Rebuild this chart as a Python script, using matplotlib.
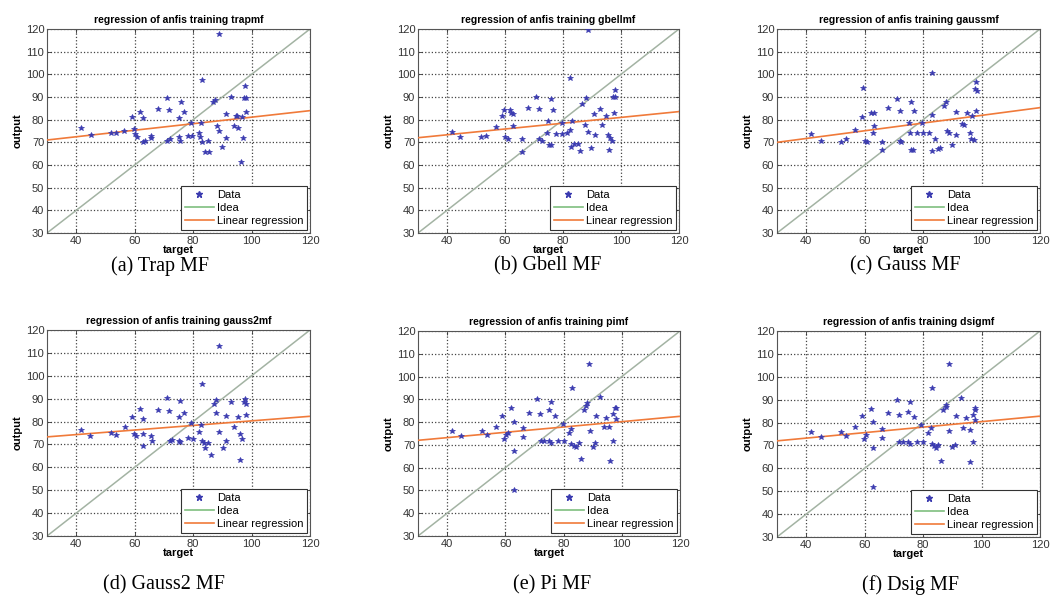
import matplotlib.pyplot as plt
from matplotlib.lines import Line2D

# membership function variants
mf_names = ['trapmf', 'gbellmf', 'gaussmf', 'gauss2mf', 'pimf', 'dsigmf']
captions = ['(a) Trap MF', '(b) Gbell MF', '(c) Gauss MF',
            '(d) Gauss2 MF', '(e) Pi MF', '(f) Dsig MF']

# target / anfis output pairs
trap_target = [88.7, 83.0, 41.5, 45.0, 51.9, 53.6, 56.5, 59.0, 59.7, 61.9, 63.0, 60.0, 60.9,
               62.8, 63.4, 65.7, 65.7, 68.0, 70.9, 71.7, 70.9, 72.0, 75.0, 75.5, 75.3, 75.9,
               77.0, 78.4, 79.6, 79.2, 81.9, 82.7, 82.5, 83.0, 85.1, 84.0, 85.4, 86.8, 87.6,
               88.2, 89.0, 90.0, 91.1, 91.1, 92.9, 94.0, 94.6, 95.1, 95.5, 96.3, 96.9, 97.4,
               98.0, 97.7, 98.0, 97.2]
trap_output = [117.6, 97.6, 76.2, 73.3, 74.0, 74.0, 75.0, 81.2, 75.8, 83.3, 80.9, 73.6, 72.4,
               70.0, 70.7, 72.0, 73.0, 84.8, 89.6, 84.2, 70.7, 71.4, 72.2, 70.7, 80.7, 87.7,
               83.3, 72.9, 72.9, 78.7, 74.3, 78.4, 72.2, 70.0, 70.4, 65.6, 65.6, 87.7, 88.6,
               77.2, 75.1, 67.8, 71.7, 82.6, 90.0, 77.2, 81.6, 81.6, 76.5, 61.3, 81.2, 89.6,
               89.6, 94.7, 83.3, 71.9]

gbell_target = [88.6, 82.4, 41.7, 44.6, 51.7, 53.6, 56.9, 58.9, 59.7, 61.7, 60.1, 60.9, 62.0,
                62.8, 62.8, 65.8, 65.8, 67.8, 70.6, 71.8, 71.8, 72.9, 74.9, 74.6, 75.2, 75.8,
                75.8, 76.6, 77.5, 79.6, 79.8, 81.5, 82.3, 83.0, 82.7, 83.8, 85.0, 85.8, 86.7,
                87.8, 87.6, 88.7, 89.8, 91.0, 90.7, 92.6, 93.3, 94.7, 95.6, 95.8, 96.2, 97.3,
                98.1, 97.8, 97.6, 97.0]
gbell_output = [119.7, 98.6, 74.6, 72.4, 72.4, 72.9, 76.8, 81.6, 84.2, 84.2, 72.4, 71.4, 82.8,
                82.3, 77.2, 71.4, 65.9, 85.2, 89.9, 84.5, 71.4, 70.7, 79.4, 74.0, 68.8, 68.8,
                88.9, 84.2, 73.6, 78.7, 73.6, 74.3, 75.5, 79.4, 67.8, 69.2, 69.2, 66.0, 87.0,
                89.6, 77.7, 74.6, 67.5, 73.3, 82.6, 84.8, 77.5, 81.6, 73.2, 66.6, 71.7, 89.9,
                89.9, 93.2, 82.8, 70.7]

gauss_target = [83.0, 59.4, 41.5, 45.0, 51.9, 53.6, 56.8, 59.0, 60.0, 60.9, 62.1, 63.3, 63.3,
                63.0, 66.0, 66.0, 68.0, 70.9, 72.0, 72.0, 72.6, 75.3, 75.5, 76.0, 76.6, 75.9,
                77.0, 77.8, 79.6, 80.1, 81.9, 83.0, 83.0, 84.2, 85.1, 85.9, 87.1, 87.9, 88.2,
                89.0, 89.9, 91.1, 91.3, 93.2, 94.0, 95.1, 96.0, 96.3, 96.9, 97.7, 98.4, 98.0,
                98.0, 97.4]
gauss_output = [100.5, 94.0, 73.6, 70.7, 70.3, 71.4, 75.5, 81.2, 70.7, 70.0, 82.8, 82.8, 77.2,
                74.0, 70.0, 66.8, 85.2, 89.3, 83.8, 70.7, 70.0, 78.7, 74.3, 66.8, 66.8, 87.7,
                83.8, 74.0, 78.7, 74.0, 74.0, 81.9, 66.0, 71.4, 67.1, 67.4, 86.0, 87.7, 74.8,
                74.3, 69.0, 73.2, 83.3, 78.0, 77.5, 82.8, 74.3, 71.4, 81.6, 93.5, 92.8, 96.4,
                83.8, 71.0]

gauss2_target = [88.7, 83.0, 41.5, 44.7, 51.9, 53.6, 56.8, 59.0, 59.7, 60.5, 61.9, 62.8, 63.0,
                 63.0, 65.7, 66.0, 68.0, 70.9, 71.8, 72.0, 72.9, 75.0, 75.5, 75.0, 75.5, 77.0,
                 78.1, 79.2, 79.9, 81.9, 82.7, 83.0, 83.6, 85.1, 84.0, 86.0, 87.1, 87.9, 87.7,
                 88.8, 90.2, 91.1, 91.1, 92.9, 94.0, 95.2, 96.0, 96.0, 96.9, 97.4, 98.0, 97.7,
                 98.0]
gauss2_output = [112.8, 96.4, 76.1, 73.6, 75.1, 74.2, 77.8, 82.2, 74.6, 73.9, 85.5, 81.2, 74.6,
                 69.2, 73.6, 71.3, 85.2, 90.2, 84.4, 71.7, 72.0, 81.9, 88.9, 71.7, 71.0, 83.8,
                 72.7, 79.4, 72.4, 75.3, 78.7, 71.7, 70.7, 70.7, 68.4, 65.2, 87.7, 89.2, 83.8,
                 75.6, 68.4, 71.7, 82.6, 88.7, 77.5, 82.2, 74.6, 63.0, 72.2, 88.7, 87.7, 89.9,
                 82.9]

pi_target = [88.9, 82.9, 41.7, 44.8, 51.9, 53.8, 56.9, 58.9, 59.7, 60.3, 60.9, 62.0, 62.9,
             62.9, 62.9, 66.0, 66.0, 68.1, 70.8, 72.0, 72.3, 73.2, 75.0, 75.8, 75.0, 75.8,
             76.9, 78.1, 79.8, 80.1, 81.9, 82.7, 82.7, 83.6, 85.3, 84.2, 85.9, 87.0, 87.8,
             88.2, 89.0, 90.1, 90.9, 91.0, 92.6, 93.8, 94.7, 95.6, 95.8, 97.0, 97.6, 98.1,
             97.0, 97.9]
pi_output = [105.3, 95.1, 75.9, 73.8, 75.9, 74.5, 77.8, 82.9, 72.6, 74.5, 75.2, 86.1, 80.0,
             67.5, 50.1, 77.4, 73.3, 83.9, 90.2, 83.5, 71.9, 71.9, 85.4, 89.0, 71.6, 70.8,
             82.5, 71.9, 79.1, 71.9, 75.2, 77.1, 70.4, 69.4, 70.8, 69.0, 63.6, 85.5, 87.1,
             88.3, 76.2, 69.0, 70.8, 82.9, 91.2, 77.7, 82.0, 77.7, 62.8, 71.9, 86.1, 86.1,
             83.5, 81.5]

dsig_target = [88.9, 82.9, 41.5, 45.0, 51.8, 53.6, 56.8, 59.0, 59.9, 60.5, 62.0, 63.0, 63.0,
               63.0, 65.9, 65.9, 67.9, 71.0, 71.9, 71.9, 73.1, 74.8, 75.6, 74.8, 75.6, 76.9,
               78.0, 79.4, 80.0, 81.7, 82.6, 82.9, 83.8, 85.2, 84.4, 86.0, 86.9, 87.7, 88.0,
               88.9, 90.0, 90.9, 91.3, 92.9, 93.8, 94.7, 95.9, 96.1, 97.0, 97.6, 97.8, 97.0,
               97.8]
dsig_output = [105.7, 95.3, 75.9, 73.6, 75.9, 74.3, 78.0, 82.9, 73.0, 74.6, 86.1, 80.3, 69.1,
               51.9, 77.0, 73.2, 84.2, 90.0, 83.3, 71.7, 71.7, 84.5, 88.9, 71.4, 70.7, 82.5,
               71.7, 79.0, 71.4, 75.3, 77.5, 70.7, 69.7, 70.2, 69.0, 63.4, 85.5, 87.0, 87.7,
               76.1, 69.2, 70.3, 82.8, 90.6, 77.5, 81.9, 76.8, 62.7, 71.7, 85.7, 86.3, 83.1,
               81.3]

targets = [trap_target, gbell_target, gauss_target, gauss2_target, pi_target, dsig_target]
outputs = [trap_output, gbell_output, gauss_output, gauss2_output, pi_output, dsig_output]

# fitted regression lines: output = intercept + slope * target
reg_slope = [0.144, 0.128, 0.170, 0.100, 0.117, 0.120]
reg_intercept = [66.7, 68.2, 64.9, 70.3, 68.5, 68.4]

ideal_color = '#a3b3a3'
reg_color = '#f07a3a'
data_color = '#3b3bb0'

plt.rcParams['font.family'] = ['Liberation Sans', 'DejaVu Sans']

fig = plt.figure(figsize=(10.54, 6.07), dpi=100)
W, H = 1054.0, 607.0

# axes boxes in pixels: left, top, right, bottom
boxes = [(47, 29, 310, 233), (418, 29, 679, 233), (777, 29, 1040, 233),
         (47, 330, 310, 536), (418, 331, 680, 536), (777, 331, 1040, 537)]
caption_x = [160, 548, 905, 164, 552, 910]
caption_y = [266, 266, 266, 585, 585, 585]

xline = [30, 120]
for i in range(6):
    l, t, r, b = boxes[i]
    ax = fig.add_axes([l / W, 1 - b / H, (r - l) / W, (b - t) / H])
    ax.plot(xline, xline, color=ideal_color, lw=1.1, zorder=2)
    ax.plot(xline, [reg_intercept[i] + reg_slope[i] * x for x in xline],
            color=reg_color, lw=1.2, zorder=3)
    ax.plot(targets[i], outputs[i], ls='none', marker='*', ms=4,
            color=data_color, mew=0.5, zorder=4)
    ax.set_xlim(30, 120)
    ax.set_ylim(30, 120)
    ax.set_xticks([40, 60, 80, 100, 120])
    ax.set_yticks(range(30, 121, 10))
    ax.tick_params(direction='in', labelsize=8, length=3, width=0.6,
                   top=True, right=True, colors='#333333')
    ax.tick_params(axis='x', pad=2.5)
    ax.tick_params(axis='y', pad=2)
    ax.grid(True, color='#444444', ls=':', lw=0.9)
    for s in ax.spines.values():
        s.set_linewidth(0.8)
        s.set_color('#555555')
    ax.set_title('regression of anfis training ' + mf_names[i],
                 fontsize=7.5, fontweight='bold', pad=4)
    ax.set_xlabel('target', fontsize=8, fontweight='bold', labelpad=-1)
    ax.set_ylabel('output', fontsize=8, fontweight='bold', labelpad=2)
    handles = [Line2D([], [], ls='none', marker='*', ms=4.5, color=data_color),
               Line2D([], [], color='#7fbf7f', lw=1.2),
               Line2D([], [], color=reg_color, lw=1.2)]
    leg = ax.legend(handles, ['Data', 'Idea', 'Linear regression'], loc='lower right',
                    fontsize=8, fancybox=False, framealpha=1, edgecolor='#333333',
                    borderaxespad=0.25, handlelength=2.6, labelspacing=0.3,
                    borderpad=0.35, handletextpad=0.3)
    leg.get_frame().set_linewidth(0.8)
    fig.text(caption_x[i] / W, 1 - caption_y[i] / H, captions[i],
             family='Liberation Serif', fontsize=14.5, ha='center', va='center')

fig.savefig('out.png', dpi=100)
